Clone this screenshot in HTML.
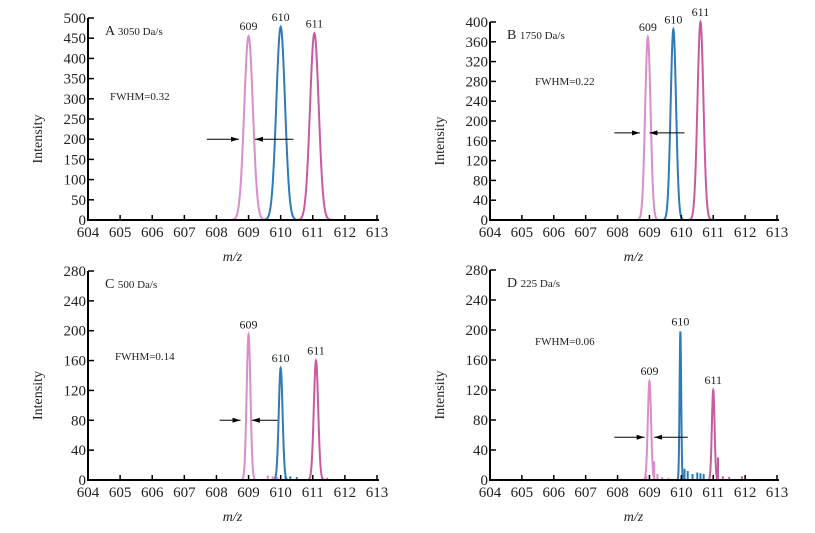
<!DOCTYPE html>
<html><head><meta charset="utf-8"><style>
html,body{margin:0;padding:0;background:#fff;}
svg{display:block;font-family:"Liberation Serif",serif;}
</style></head><body>
<svg id="chart" width="815" height="533" viewBox="0 0 815 533"></svg>
<script>
const xTicks = [604,605,606,607,608,609,610,611,612,613];
const panelLabels = ["A","B","C","D"];
const panelRates = ["3050 Da/s","1750 Da/s","500 Da/s","225 Da/s"];
const fwhmText = ["FWHM=0.32","FWHM=0.22","FWHM=0.14","FWHM=0.06"];
const yMaxes = [500,400,280,280];
const yTicksA = [0,50,100,150,200,250,300,350,400,450,500];
const yTicksB = [0,40,80,120,160,200,240,280,320,360,400];
const yTicksC = [0,40,80,120,160,200,240,280];
const yTicksD = [0,40,80,120,160,200,240,280];
const peakNames = ["609","610","611"];
const centersA = [609.0,610.0,611.05]; const heightsA = [455,478,462]; const widthsA = [0.32,0.32,0.32];
const centersB = [608.95,609.75,610.6]; const heightsB = [370,385,400]; const widthsB = [0.2,0.2,0.22];
const centersC = [609.0,610.0,611.1]; const heightsC = [195,150,160]; const widthsC = [0.14,0.14,0.16];
const centersD = [609.0,609.97,611.0]; const heightsD = [132,198,120]; const widthsD = [0.12,0.06,0.1];
const noiseXD = [608.9,609.15,609.25,609.4,609.6,610.1,610.2,610.35,610.5,610.6,610.7,611.15,611.3,611.5,611.9];
const noiseYD = [6,25,8,4,3,15,12,8,10,9,8,30,5,4,5];
const noiseXC = [609.6,609.75,609.9,610.15,610.3,610.5,611.3,611.45];
const noiseYC = [6,5,4,6,5,4,4,3];
const arrowY = [200,176,80,57];
const arrowLeft = [[607.7,608.7],[607.9,608.7],[608.1,608.75],[607.9,608.85]];
const arrowRight = [[610.4,609.2],[610.1,609.0],[609.9,609.1],[610.2,609.15]];

const panels = [
 {x0:88,x1:377,y0:220,y1:18,ticks:yTicksA,c:centersA,h:heightsA,w:widthsA,fx:110,fy:100,nx:[],ny:[]},
 {x0:490,x1:777,y0:220,y1:22,ticks:yTicksB,c:centersB,h:heightsB,w:widthsB,fx:535,fy:85,nx:[],ny:[]},
 {x0:88,x1:377,y0:480,y1:271,ticks:yTicksC,c:centersC,h:heightsC,w:widthsC,fx:115,fy:360,nx:noiseXC,ny:noiseYC},
 {x0:490,x1:777,y0:480,y1:270,ticks:yTicksD,c:centersD,h:heightsD,w:widthsD,fx:535,fy:345,nx:noiseXD,ny:noiseYD}
];
const colors = ["#dd8ccb","#2f7bb8","#c85aa0"];
const svg = document.getElementById('chart');
const NS = "http://www.w3.org/2000/svg";
function mk(tag, attrs, parent){const e=document.createElementNS(NS,tag);for(const k in attrs)e.setAttribute(k,attrs[k]);(parent||svg).appendChild(e);return e;}
mk('defs',{}).innerHTML='<marker id="ah" markerWidth="8" markerHeight="6" refX="8" refY="3" orient="auto" markerUnits="userSpaceOnUse"><path d="M0,0.5 L8,3 L0,5.5 z" fill="#000"/></marker>';

panels.forEach((p,i)=>{
 const g = mk('g',{});
 
 
 const sx = v => p.x0 + (v-604)/(613-604)*(p.x1-p.x0);
 const sy = v => p.y0 - v/yMaxes[i]*(p.y0-p.y1);
 p.c.forEach((c,k)=>{
  const sig = p.w[k]/2.355; let d='';
  for(let x=c-4*sig; x<=c+4*sig; x+=sig/12){
   const y = p.h[k]*Math.exp(-0.5*((x-c)/sig)**2);
   d += (d?'L':'M')+sx(x).toFixed(2)+','+sy(y).toFixed(2);
  }
  const path = mk('path',{d:d,fill:'none',stroke:colors[k],'stroke-width':2},g);
  
  
  const t = mk('text',{x:sx(c),y:sy(p.h[k])-6,'font-size':12,'text-anchor':'middle',fill:'#222'},g);
  t.textContent = peakNames[k];
  
  
 });
 p.nx.forEach((x,k)=>{
  const col = x>610.9 ? colors[2] : (x>609.9 ? colors[1] : colors[0]);
  const l = mk('line',{x1:sx(x),x2:sx(x),y1:sy(0),y2:sy(p.ny[k]),stroke:col,'stroke-width':2},g);
  
  
 });
 const ax = mk('path',{d:`M${p.x0},${p.y1} L${p.x0},${p.y0} L${p.x1+2},${p.y0}`,fill:'none',stroke:'#000','stroke-width':2},g);
 
 
 xTicks.forEach(v=>{
  mk('line',{x1:sx(v),x2:sx(v),y1:p.y0,y2:p.y0-5,stroke:'#000','stroke-width':1.5},g);
  const t = mk('text',{x:sx(v),y:p.y0+17,'font-size':15,'text-anchor':'middle',fill:'#222'},g);
  t.textContent = v;
  
  
 });
 p.ticks.forEach(v=>{
  mk('line',{x1:p.x0,x2:p.x0+6,y1:sy(v),y2:sy(v),stroke:'#000','stroke-width':1.5},g);
  const t = mk('text',{x:p.x0-2,y:sy(v)+5,'font-size':15,'text-anchor':'end',fill:'#222'},g);
  t.textContent = v;
  
  
 });
 const yt = mk('text',{x:0,y:0,'font-size':14,'text-anchor':'middle',fill:'#222',transform:`translate(${p.x0-46},${(p.y0+p.y1)/2+20}) rotate(-90)`},g);
 yt.textContent='Intensity';
 
 
 const xt = mk('text',{x:(p.x0+p.x1)/2,y:p.y0+41,'font-size':14,'font-style':'italic','text-anchor':'middle',fill:'#222'},g);
 xt.textContent='m/z';
 
 
 const tl = mk('text',{x:p.x0+17,y:p.y1+17,'font-size':14,fill:'#222'},g);
 tl.innerHTML = panelLabels[i]+' <tspan font-size="11">'+panelRates[i]+'</tspan>';
 
 
 const ft = mk('text',{x:p.fx,y:p.fy,'font-size':11,fill:'#222'},g);
 ft.textContent = fwhmText[i];
 
 
 const a1 = mk('line',{x1:sx(arrowLeft[i][0]),x2:sx(arrowLeft[i][1]),y1:sy(arrowY[i]),y2:sy(arrowY[i]),stroke:'#000','stroke-width':1,'marker-end':'url(#ah)'},g);
 
 
 const a2 = mk('line',{x1:sx(arrowRight[i][0]),x2:sx(arrowRight[i][1]),y1:sy(arrowY[i]),y2:sy(arrowY[i]),stroke:'#000','stroke-width':1,'marker-end':'url(#ah)'},g);
 
 
});
</script>
</body></html>
